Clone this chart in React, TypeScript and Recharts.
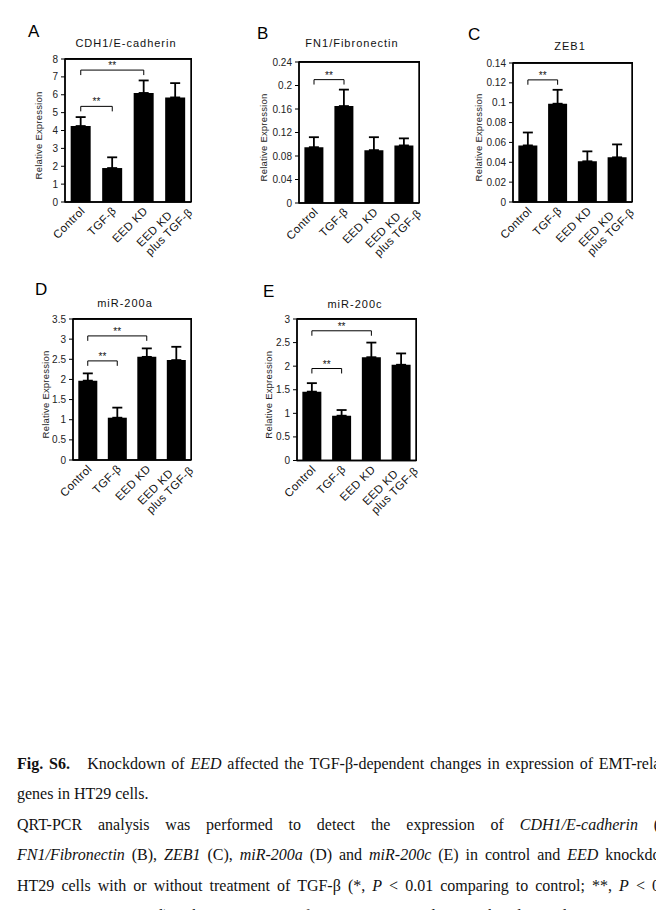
import React from 'react';
import { BarChart, Bar, XAxis, YAxis, ErrorBar, ReferenceLine, ReferenceArea } from 'recharts';

const categories = ['Control', 'TGF-β', 'EED KD', 'EED KD\nplus TGF-β'];

// A: CDH1/E-cadherin
const cdh1Values = [4.25, 1.9, 6.1, 5.85];
const cdh1Errors = [0.5, 0.6, 0.7, 0.8];
const cdh1Ticks = [0, 1, 2, 3, 4, 5, 6, 7, 8];
const cdh1Marks = [
  { from: 'Control', to: 'TGF-β', y: 5.35 },
  { from: 'Control', to: 'EED KD', y: 7.38 },
];

// B: FN1/Fibronectin
const fn1Values = [0.095, 0.165, 0.09, 0.098];
const fn1Errors = [0.017, 0.028, 0.022, 0.012];
const fn1Ticks = [0, 0.04, 0.08, 0.12, 0.16, 0.2, 0.24];
const fn1Marks = [{ from: 'Control', to: 'TGF-β', y: 0.21 }];

// C: ZEB1
const zeb1Values = [0.057, 0.099, 0.041, 0.045];
const zeb1Errors = [0.013, 0.014, 0.01, 0.013];
const zeb1Ticks = [0, 0.02, 0.04, 0.06, 0.08, 0.1, 0.12, 0.14];
const zeb1Marks = [{ from: 'Control', to: 'TGF-β', y: 0.123 }];

// D: miR-200a
const mir200aValues = [1.97, 1.05, 2.56, 2.48];
const mir200aErrors = [0.18, 0.25, 0.21, 0.33];
const mir200aTicks = [0, 0.5, 1, 1.5, 2, 2.5, 3, 3.5];
const mir200aMarks = [
  { from: 'Control', to: 'TGF-β', y: 2.46 },
  { from: 'Control', to: 'EED KD', y: 3.08 },
];

// E: miR-200c
const mir200cValues = [1.46, 0.95, 2.19, 2.03];
const mir200cErrors = [0.18, 0.12, 0.31, 0.24];
const mir200cTicks = [0, 0.5, 1, 1.5, 2, 2.5, 3];
const mir200cMarks = [
  { from: 'Control', to: 'TGF-β', y: 1.95 },
  { from: 'Control', to: 'EED KD', y: 2.75 },
];

type Mark = { from: string; to: string; y: number };

const FONT = 'Arial, "Liberation Sans", sans-serif';
const YW = 50; // y axis area width
const MT = 8;
const MR = 6;
const XH = 70;

const CategoryTick = (props: any) => {
  const { x, y, payload } = props;
  const lines = String(payload.value).split('\n');
  return (
    <g transform={`translate(${x - 1},${y + 4})`}>
      <text transform="rotate(-45)" textAnchor="end" fontSize={11.5} letterSpacing={0.3} fill="#111" fontFamily={FONT}>
        {lines.length === 1 ? (
          <tspan x={0} y={0} dy="0.7em">{lines[0]}</tspan>
        ) : (
          <>
            <tspan x={-8} y={-2} dy="0.7em">{lines[0]}</tspan>
            <tspan x={8} y={10.5} dy="0.7em">{lines[1]}</tspan>
          </>
        )}
      </text>
    </g>
  );
};

interface PanelProps {
  letter: string;
  title: string;
  values: number[];
  errors: number[];
  ticks: number[];
  marks: Mark[];
  left: number;
  top: number;
  plotW: number;
  plotH: number;
  labelX: number;
  titleDx: number;
  titleY: number;
  letterLeft: number;
  letterTop: number;
}

const Panel = (p: PanelProps) => {
  const data = categories.map((name, i) => ({ name, value: p.values[i], err: [0, p.errors[i]] }));
  const max = p.ticks[p.ticks.length - 1];
  const drop = max * 0.035;
  const axisStyle = { stroke: '#000', strokeWidth: 1.4 };

  return (
    <>
      <div style={{ position: 'absolute', left: p.letterLeft, top: p.letterTop, fontSize: 17, lineHeight: '17px', fontFamily: FONT, color: '#000' }}>
        {p.letter}
      </div>
      <div style={{ position: 'absolute', left: p.left + p.titleDx, top: p.titleY - 7, width: p.plotW, textAlign: 'center', fontSize: 11, lineHeight: '14px', letterSpacing: 1, fontFamily: FONT, color: '#111', whiteSpace: 'nowrap' }}>
        {p.title}
      </div>
      <div style={{ position: 'absolute', left: p.left - YW, top: p.top - MT }}>
        <BarChart
          width={YW + p.plotW + MR}
          height={MT + p.plotH + XH}
          data={data}
          margin={{ top: MT, right: MR, left: 0, bottom: 0 }}
          barCategoryGap="18%"
        >
          <XAxis dataKey="name" height={XH} interval={0} tickLine={false} tickSize={0} tickMargin={0} axisLine={axisStyle} tick={<CategoryTick />} />
          <YAxis
            width={YW}
            domain={[0, max]}
            allowDataOverflow
            ticks={p.ticks}
            interval={0}
            tickSize={4}
            tickMargin={3}
            tickLine={{ stroke: '#000', strokeWidth: 1 }}
            axisLine={axisStyle}
            tick={{ fontSize: 10, fill: '#222', fontFamily: FONT }}
            label={{
              position: 'insideLeft',
              content: ({ viewBox }: any) => {
                const lx = viewBox.x + p.labelX;
                const ly = viewBox.y + viewBox.height / 2 + 5;
                return (
                  <text x={lx} y={ly} transform={`rotate(-90, ${lx}, ${ly})`} textAnchor="middle" dominantBaseline="central" fontSize={9.5} letterSpacing={0.2} fill="#222" fontFamily={FONT}>
                    Relative Expression
                  </text>
                );
              },
            }}
          />
          <Bar dataKey="value" fill="#000" isAnimationActive={false}>
            <ErrorBar dataKey="err" width={5} stroke="#000" strokeWidth={1.8} direction="y" />
          </Bar>
          {/* plot frame */}
          <ReferenceArea y1={0} y2={max} fill="none" stroke="#000" strokeWidth={1.4} ifOverflow="visible" />
          <ReferenceLine y={max} stroke="#000" strokeWidth={1.4} ifOverflow="visible" />
          {p.marks.map((m, i) => (
            <React.Fragment key={i}>
              <ReferenceLine
                segment={[{ x: m.from, y: m.y }, { x: m.to, y: m.y }]}
                stroke="#000"
                strokeWidth={1}
                label={{ value: '**', position: 'top', offset: 1, fontSize: 10, fill: '#111', fontFamily: FONT }}
              />
              <ReferenceLine segment={[{ x: m.from, y: m.y }, { x: m.from, y: m.y - drop }]} stroke="#000" strokeWidth={1} />
              <ReferenceLine segment={[{ x: m.to, y: m.y }, { x: m.to, y: m.y - drop }]} stroke="#000" strokeWidth={1} />
            </React.Fragment>
          ))}
        </BarChart>
      </div>
      <div
        style={{
          position: 'absolute',
          left: p.left,
          top: p.top - 1,
          width: p.plotW + 1,
          height: p.plotH + 1,
          boxSizing: 'border-box',
          borderTop: '1.5px solid #000',
          borderRight: '1.5px solid #000',
          pointerEvents: 'none',
        }}
      />
    </>
  );
};

const capLine = (justify: boolean): React.CSSProperties => ({
  height: 30.4,
  lineHeight: '30.4px',
  whiteSpace: 'nowrap',
  textAlign: justify ? 'justify' : 'left',
  textAlignLast: justify ? 'justify' : 'left',
});

export default function App() {
  return (
    <div style={{ position: 'absolute', left: 0, top: 0, width: 656, height: 910, overflow: 'hidden', background: '#fff' }}>
      <Panel letter="A" title="CDH1/E-cadherin" values={cdh1Values} errors={cdh1Errors} ticks={cdh1Ticks} marks={cdh1Marks}
        left={65} top={59} plotW={126} plotH={143} labelX={23} titleDx={-2} titleY={43} letterLeft={28} letterTop={23} />
      <Panel letter="B" title="FN1/Fibronectin" values={fn1Values} errors={fn1Errors} ticks={fn1Ticks} marks={fn1Marks}
        left={299} top={62} plotW={120} plotH={141} labelX={14} titleDx={-7} titleY={43} letterLeft={257} letterTop={25} />
      <Panel letter="C" title="ZEB1" values={zeb1Values} errors={zeb1Errors} ticks={zeb1Ticks} marks={zeb1Marks}
        left={513} top={63} plotW={119} plotH={139} labelX={15} titleDx={-2.5} titleY={45.5} letterLeft={468} letterTop={26} />
      <Panel letter="D" title="miR-200a" values={mir200aValues} errors={mir200aErrors} ticks={mir200aTicks} marks={mir200aMarks}
        left={73} top={319} plotW={118} plotH={141} labelX={22} titleDx={-7} titleY={303} letterLeft={35} letterTop={281} />
      <Panel letter="E" title="miR-200c" values={mir200cValues} errors={mir200cErrors} ticks={mir200cTicks} marks={mir200cMarks}
        left={297} top={319} plotW={119} plotH={141.5} labelX={21} titleDx={-1.5} titleY={304} letterLeft={263} letterTop={283} />

      <div style={{ position: 'absolute', left: 17, top: 749, width: 663, fontFamily: '"Times New Roman", "Liberation Serif", serif', fontSize: 16, color: '#111' }}>
        <div style={capLine(true)}>
          <b>Fig. S6.</b>&nbsp;&nbsp;&nbsp;Knockdown of <i>EED</i> affected the TGF-β-dependent changes in expression of EMT-related
        </div>
        <div style={capLine(false)}>genes in HT29 cells.</div>
        <div style={capLine(true)}>
          QRT-PCR analysis was performed to detect the expression of <i>CDH1/E-cadherin</i> (A),
        </div>
        <div style={capLine(true)}>
          <i>FN1/Fibronectin</i> (B), <i>ZEB1</i> (C), <i>miR-200a</i> (D) and <i>miR-200c</i> (E) in control and <i>EED</i> knockdown
        </div>
        <div style={capLine(true)}>
          HT29 cells with or without treatment of TGF-β (*, <i>P</i> &lt; 0.01 comparing to control; **, <i>P</i> &lt; 0.01
        </div>
        <div style={capLine(true)}>
          comparing to control). The expression of <i>ZEB2</i> was too low to be detected in HT29 cells.
        </div>
      </div>
    </div>
  );
}
